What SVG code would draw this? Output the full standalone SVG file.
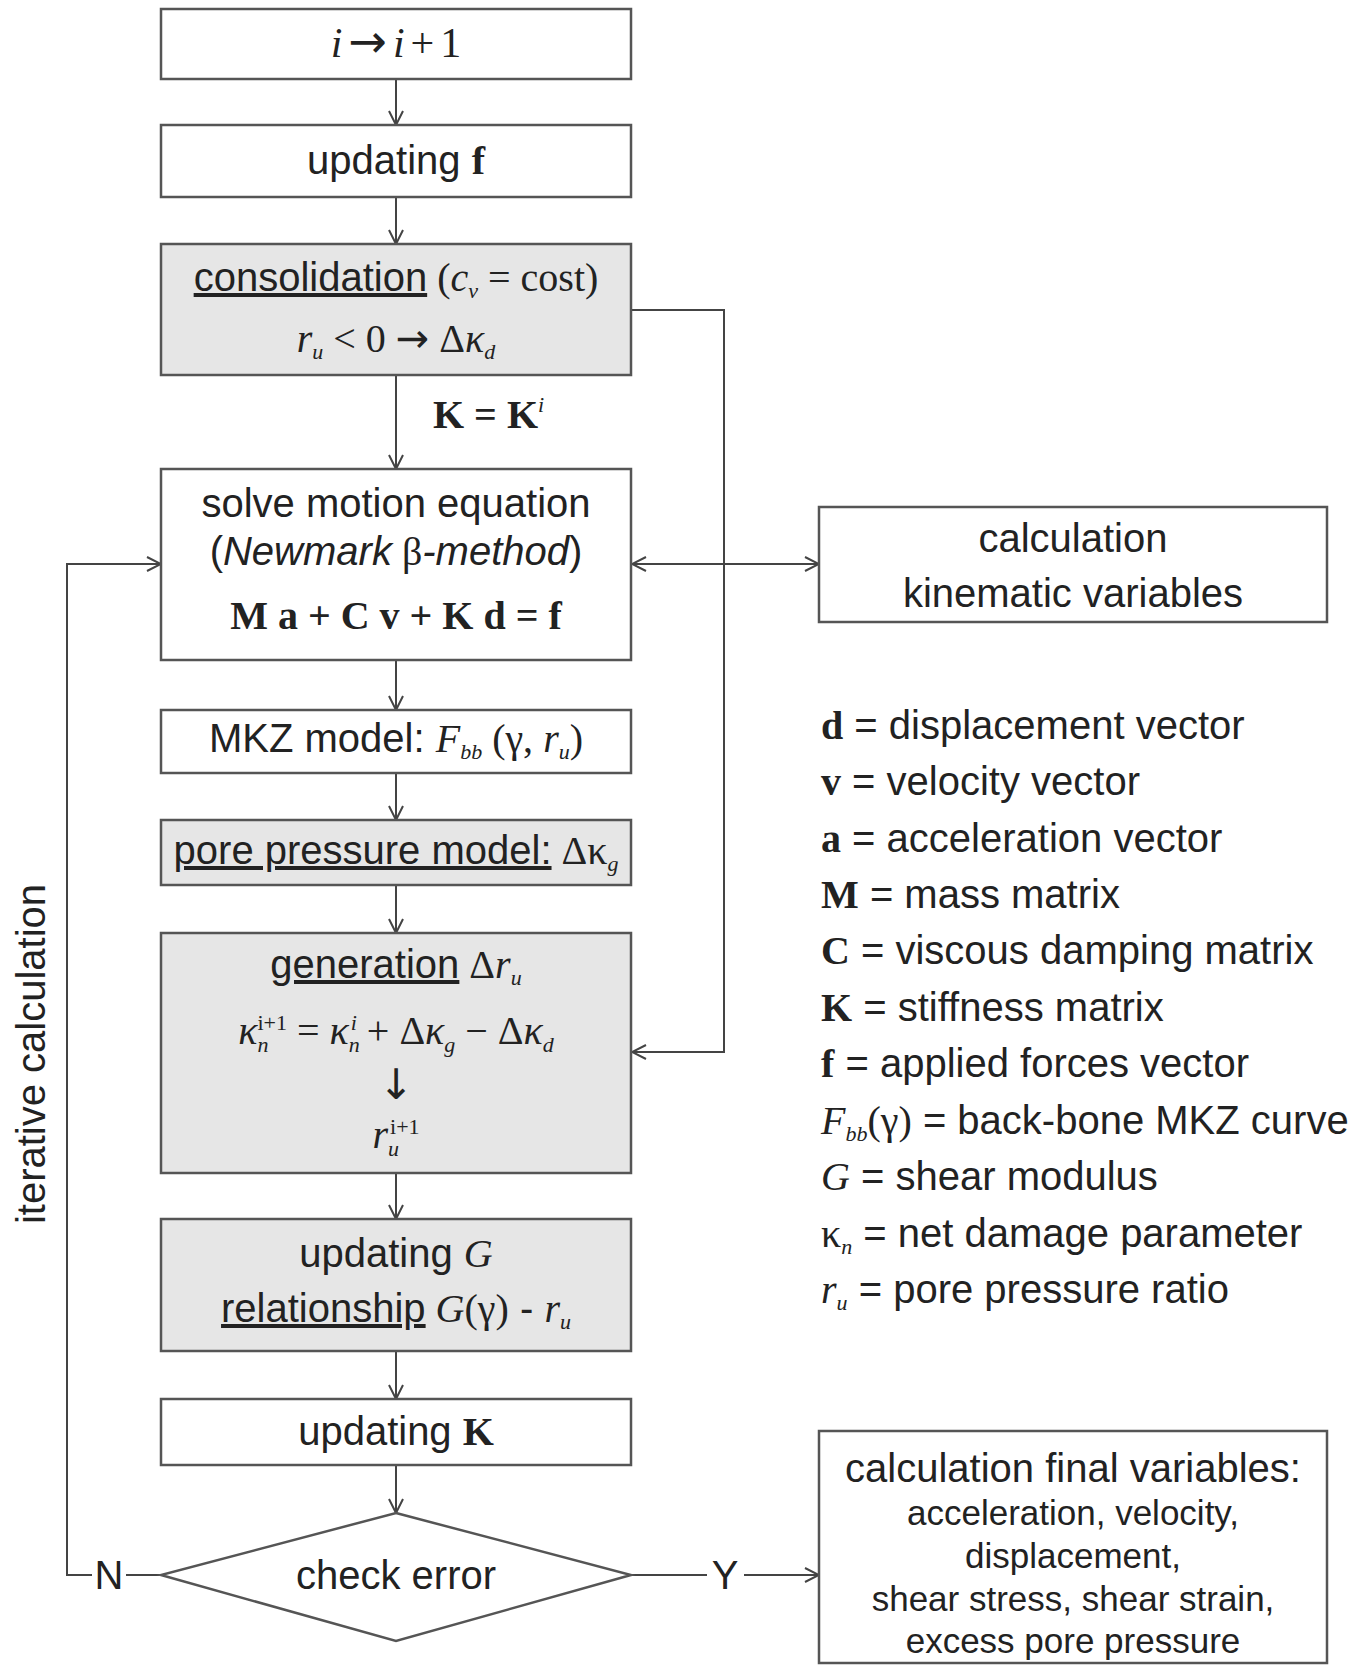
<svg xmlns="http://www.w3.org/2000/svg" width="1366" height="1665" viewBox="0 0 1366 1665">
<style>
.box{fill:#fff;stroke:#555;stroke-width:2.5}
.gbox{fill:#e6e6e6;stroke:#555;stroke-width:2.5}
.t{font-family:"Liberation Sans",Arial,sans-serif;font-size:40px;fill:#222}
.c{text-anchor:middle}
.m{font-family:"Liberation Serif","Times New Roman",serif}
.ar{font-family:"DejaVu Sans",sans-serif;font-style:normal}
.i{font-style:italic}
.b{font-weight:bold}
.s{font-size:22px}
.u{text-decoration:underline}
.sm{font-size:35px}
.conn{stroke:#444;stroke-width:2;fill:none}
</style>
<defs>
<marker id="arr" viewBox="0 0 16 16" refX="15" refY="8" markerWidth="16" markerHeight="16" markerUnits="userSpaceOnUse" orient="auto-start-reverse">
<path d="M1,1 L15,8 L1,15" fill="none" stroke="#444" stroke-width="2"/>
</marker>
</defs>
<rect width="1366" height="1665" fill="#fff"/>

<g id="connectors">
<line class="conn" x1="396" y1="79" x2="396" y2="125" marker-end="url(#arr)"/>
<line class="conn" x1="396" y1="197" x2="396" y2="244" marker-end="url(#arr)"/>
<line class="conn" x1="396" y1="375" x2="396" y2="469" marker-end="url(#arr)"/>
<line class="conn" x1="396" y1="660" x2="396" y2="710" marker-end="url(#arr)"/>
<line class="conn" x1="396" y1="773" x2="396" y2="820" marker-end="url(#arr)"/>
<line class="conn" x1="396" y1="885" x2="396" y2="933" marker-end="url(#arr)"/>
<line class="conn" x1="396" y1="1173" x2="396" y2="1219" marker-end="url(#arr)"/>
<line class="conn" x1="396" y1="1351" x2="396" y2="1399" marker-end="url(#arr)"/>
<line class="conn" x1="396" y1="1465" x2="396" y2="1513" marker-end="url(#arr)"/>
<polyline class="conn" points="631,310 724,310 724,1052 632,1052" marker-end="url(#arr)"/>
<line class="conn" x1="632" y1="564" x2="819" y2="564" marker-start="url(#arr)" marker-end="url(#arr)"/>
<line class="conn" x1="161" y1="1575" x2="126" y2="1575"/>
<polyline class="conn" points="92,1575 67,1575 67,564 161,564" marker-end="url(#arr)"/>
<line class="conn" x1="631" y1="1575" x2="707" y2="1575"/>
<line class="conn" x1="744" y1="1575" x2="819" y2="1575" marker-end="url(#arr)"/>
<text class="t c" x="109" y="1589">N</text>
<text class="t c" x="725" y="1589">Y</text>
</g>

<g id="n1">
<rect class="box" x="161" y="9" width="470" height="70"/>
<text class="t c m" x="396" y="57" style="font-size:42px"><tspan class="i">i</tspan><tspan class="ar" dx="6" style="font-size:46px">→</tspan><tspan class="i" dx="6">i</tspan><tspan dx="6">+</tspan><tspan dx="6">1</tspan></text>
</g>

<g id="n2">
<rect class="box" x="161" y="125" width="470" height="72"/>
<text class="t c" x="396" y="174">updating <tspan class="m b">f</tspan></text>
</g>

<g id="n3">
<rect class="gbox" x="161" y="244" width="470" height="131"/>
<text class="t c" x="396" y="291"><tspan class="u">consolidation</tspan><tspan class="m"> (<tspan class="i">c</tspan><tspan class="s i" dy="7">v</tspan><tspan dy="-7"> = cost)</tspan></tspan></text>
<text class="t c m" x="396" y="352"><tspan class="i">r</tspan><tspan class="s i" dy="7">u</tspan><tspan dy="-7"> &lt; 0 </tspan><tspan class="ar" style="font-size:40px">→</tspan><tspan> Δ</tspan><tspan class="i">κ</tspan><tspan class="s i" dy="7">d</tspan></text>
</g>

<g id="lbl-K">
<text class="t m b" x="433" y="428">K = K<tspan class="s i" font-weight="normal" dy="-16">i</tspan></text>
</g>

<g id="n4">
<rect class="box" x="161" y="469" width="470" height="191"/>
<text class="t c" x="396" y="517">solve motion equation</text>
<text class="t c" x="396" y="565">(<tspan class="i">Newmark</tspan><tspan class="m"> β</tspan><tspan class="i">-method</tspan>)</text>
<text class="t c m b" x="396" y="629">M a + C v + K d = f</text>
</g>

<g id="n5">
<rect class="box" x="819" y="507" width="508" height="115"/>
<text class="t c" x="1073" y="552">calculation</text>
<text class="t c" x="1073" y="607">kinematic variables</text>
</g>

<g id="n6">
<rect class="box" x="161" y="710" width="470" height="63"/>
<text class="t c" x="396" y="752">MKZ model: <tspan class="m i">F</tspan><tspan class="m i s" dy="7">bb</tspan><tspan class="m" dy="-7"> (γ, </tspan><tspan class="m i">r</tspan><tspan class="m i s" dy="7">u</tspan><tspan class="m" dy="-7">)</tspan></text>
</g>

<g id="n7">
<rect class="gbox" x="161" y="820" width="470" height="65"/>
<text class="t c" x="396" y="864"><tspan class="u">pore pressure model:</tspan><tspan class="m"> Δκ</tspan><tspan class="m i s" dy="7">g</tspan></text>
</g>

<g id="n8">
<rect class="gbox" x="161" y="933" width="470" height="240"/>
<text class="t c" x="396" y="978"><tspan class="u">generation</tspan><tspan class="m"> Δ</tspan><tspan class="m i">r</tspan><tspan class="m i s" dy="7">u</tspan></text>
<text class="t c m" x="396" y="1044"><tspan class="i">κ</tspan><tspan class="i s" dy="8">n</tspan><tspan class="s" dx="-11" dy="-22">i+1</tspan><tspan dy="14"> = </tspan><tspan class="i">κ</tspan><tspan class="i s" dy="8">n</tspan><tspan class="i s" dx="-9" dy="-22">i</tspan><tspan dy="14"> + Δ</tspan><tspan class="i">κ</tspan><tspan class="i s" dy="8">g</tspan><tspan dy="-8"> − Δ</tspan><tspan class="i">κ</tspan><tspan class="i s" dy="8">d</tspan></text>
<text class="t c ar" x="396" y="1099" style="font-size:42px">↓</text>
<text class="t c m" x="396" y="1148"><tspan class="i">r</tspan><tspan class="i s" dy="8">u</tspan><tspan class="s" dx="-9" dy="-22">i+1</tspan></text>
</g>

<g id="n9">
<rect class="gbox" x="161" y="1219" width="470" height="132"/>
<text class="t c" x="396" y="1267">updating <tspan class="m i">G</tspan></text>
<text class="t c" x="396" y="1322"><tspan class="u">relationship</tspan><tspan class="m"> <tspan class="i">G</tspan>(γ)</tspan> - <tspan class="m i">r</tspan><tspan class="m i s" dy="7">u</tspan></text>
</g>

<g id="n10">
<rect class="box" x="161" y="1399" width="470" height="66"/>
<text class="t c" x="396" y="1445">updating <tspan class="m b">K</tspan></text>
</g>

<g id="n11">
<polygon class="box" points="396,1513 631,1575 396,1641 161,1575"/>
<text class="t c" x="396" y="1589">check error</text>
</g>

<g id="n12">
<rect class="box" x="819" y="1431" width="508" height="232"/>
<text class="t c" x="1073" y="1482">calculation final variables:</text>
<text class="t c sm" x="1073" y="1525">acceleration, velocity,</text>
<text class="t c sm" x="1073" y="1568">displacement,</text>
<text class="t c sm" x="1073" y="1611">shear stress, shear strain,</text>
<text class="t c sm" x="1073" y="1653">excess pore pressure</text>
</g>

<g id="side-label">
<text class="t c" transform="translate(45,1054) rotate(-90)">iterative calculation</text>
</g>

<g id="legend">
<text class="t" x="821" y="739"><tspan class="m b">d</tspan> = displacement vector</text>
<text class="t" x="821" y="795"><tspan class="m b">v</tspan> = velocity vector</text>
<text class="t" x="821" y="852"><tspan class="m b">a</tspan> = acceleration vector</text>
<text class="t" x="821" y="908"><tspan class="m b">M</tspan> = mass matrix</text>
<text class="t" x="821" y="964"><tspan class="m b">C</tspan> = viscous damping matrix</text>
<text class="t" x="821" y="1021"><tspan class="m b">K</tspan> = stiffness matrix</text>
<text class="t" x="821" y="1077"><tspan class="m b">f</tspan> = applied forces vector</text>
<text class="t" x="821" y="1134"><tspan class="m i">F</tspan><tspan class="m i s" dy="7">bb</tspan><tspan class="m" dy="-7">(γ)</tspan> = back-bone MKZ curve</text>
<text class="t" x="821" y="1190"><tspan class="m i">G</tspan> = shear modulus</text>
<text class="t" x="821" y="1247"><tspan class="m">κ</tspan><tspan class="m i s" dy="7">n</tspan><tspan dy="-7"> = net damage parameter</tspan></text>
<text class="t" x="821" y="1303"><tspan class="m i">r</tspan><tspan class="m i s" dy="7">u</tspan><tspan dy="-7"> = pore pressure ratio</tspan></text>
</g>
</svg>
